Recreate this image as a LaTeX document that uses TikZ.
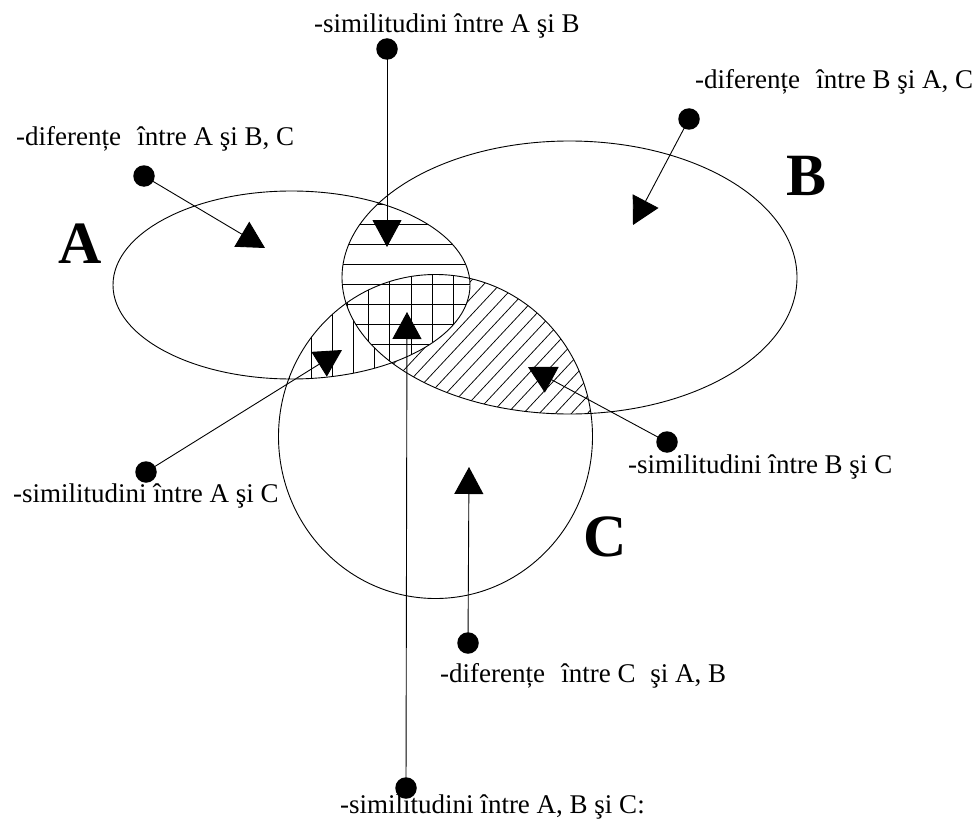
\documentclass[tikz,border=0pt]{standalone}
\usepackage{fontspec}
\setmainfont{Liberation Serif}
\usetikzlibrary{arrows.meta}
\begin{document}
\begin{tikzpicture}[x=1pt,y=-1pt,
  outline/.style={draw=black,line width=0.9pt},
  hatch/.style={draw=black,line width=0.75pt},
  conn/.style={draw=black,line width=0.9pt,-{Triangle[length=27pt,width=29pt]}},
  dotnode/.style={circle,fill=black,inner sep=0pt,minimum size=21.5pt},
  lbl/.style={anchor=base west,inner sep=0pt,font=\fontsize{27}{32}\selectfont},
  big/.style={anchor=base,inner sep=0pt,font=\fontsize{60}{70}\selectfont\bfseries}]
\useasboundingbox (0,0) rectangle (977,824);
\fill[white] (0,0) rectangle (977,824);
% B and C: diagonal hatching
\begin{scope}
  \clip (569.5,277.5) ellipse [x radius=227.5pt, y radius=136.5pt];
  \clip (435.5,436.5) ellipse [x radius=157pt, y radius=162pt];
  \foreach \k in {0,...,32} { \draw[hatch] ({185.3+16*\k},450) -- ++(250,-268); }
\end{scope}
% A and C: vertical hatching
\begin{scope}
  \clip (291.5,285) ellipse [x radius=178.5pt, y radius=94pt];
  \clip (435.5,436.5) ellipse [x radius=157pt, y radius=162pt];
  \foreach \k in {-2,...,5} { \draw[hatch] ({311+21.2*\k},250) -- ++(0,160); }
\end{scope}
% A, B and C: grid
\begin{scope}
  \clip (291.5,285) ellipse [x radius=178.5pt, y radius=94pt];
  \clip (569.5,277.5) ellipse [x radius=227.5pt, y radius=136.5pt];
  \clip (435.5,436.5) ellipse [x radius=157pt, y radius=162pt];
  \fill[white] (300,250) rectangle (500,400);
  \foreach \k in {-3,...,6} { \draw[hatch] ({368.3+21.3*\k},250) -- ++(0,160); }
\end{scope}
% A and B: horizontal hatching
\begin{scope}
  \clip (291.5,285) ellipse [x radius=178.5pt, y radius=94pt];
  \clip (569.5,277.5) ellipse [x radius=227.5pt, y radius=136.5pt];
  \foreach \k in {-2,...,10} { \draw[hatch] (300,{224.3+19.95*\k}) -- ++(200,0); }
\end{scope}
% outlines
\draw[outline] (291.5,285) ellipse [x radius=178.5pt, y radius=94pt];
\draw[outline] (569.5,277.5) ellipse [x radius=227.5pt, y radius=136.5pt];
\draw[outline] (435.5,436.5) ellipse [x radius=157pt, y radius=162pt];
% big letters
\node[big] (LA) at (80,263) {A};
\node[big] (LB) at (806,195) {B};
\node[big] (LC) at (605,556) {C};
% labels
\node[lbl] (l1) at (314,33) {-similitudini între A şi B};
\node[lbl] (l2) at (16,146) {-diferențe\hspace{0.35em} între A şi B, C};
\node[lbl] (l3) at (695,89) {-diferențe\hspace{0.35em} între B şi A, C};
\node[lbl] (l4) at (13,502) {-similitudini între A şi C};
\node[lbl] (l5) at (628,473) {-similitudini între B şi C};
\node[lbl] (l6) at (440,682) {-diferențe\hspace{0.35em} între C\hspace{0.3em} şi A, B};
\node[lbl] (l7) at (340,813) {-similitudini între A, B şi C:};
% dots
\node[dotnode] (d1) at (387,49) {};
\node[dotnode] (d2) at (144,176) {};
\node[dotnode] (d3) at (689,119) {};
\node[dotnode] (d4) at (146,472) {};
\node[dotnode] (d5) at (667,442) {};
\node[dotnode] (d6) at (468,643) {};
\node[dotnode] (d7) at (406,788) {};
% arrow tips
\coordinate (t1) at (387,247);
\coordinate (t2) at (265,248);
\coordinate (t3) at (633,225);
\coordinate (t4) at (342,350);
\coordinate (t5) at (528,367);
\coordinate (t6) at (469,467);
\coordinate (t7) at (407,312);
\draw[conn] (d1.center) -- (t1);
\draw[conn] (d2.center) -- (t2);
\draw[conn] (d3.center) -- (t3);
\draw[conn] (d4.center) -- (t4);
\draw[conn] (d5.center) -- (t5);
\draw[conn] (d6.center) -- (t6);
\draw[conn] (d7.center) -- (t7);
\end{tikzpicture}
\end{document}
